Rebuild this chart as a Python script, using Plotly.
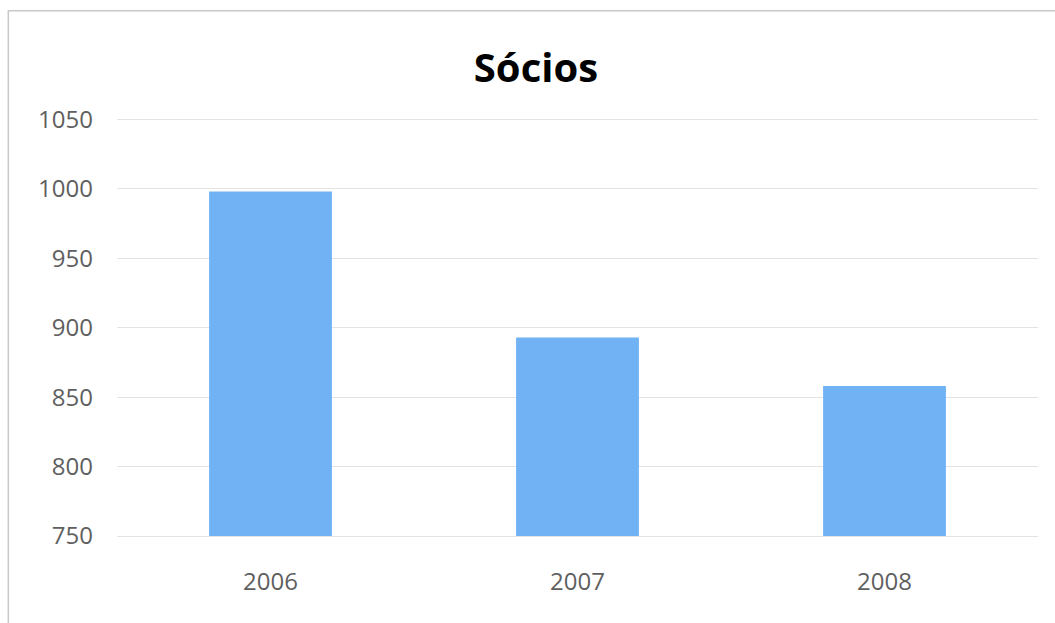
import plotly.graph_objects as go

categories = ["2006", "2007", "2008"]
socios = [998, 893, 858]
y_ticks = [750, 800, 850, 900, 950, 1000, 1050]

fig = go.Figure()
fig.add_trace(go.Bar(
    x=categories, y=socios, base=0,
    marker=dict(color="#70B2F4", line=dict(width=0)),
    width=0.4,
))

fig.update_layout(
    width=1055, height=623,
    margin=dict(l=117, r=17, t=118, b=87),
    paper_bgcolor="white", plot_bgcolor="white",
    showlegend=False,
    title=dict(text="<b>Sócios</b>", x=0.508, xanchor="center", y=0.891, yanchor="middle",
               font=dict(family="Open Sans, Liberation Sans, sans-serif", size=40, color="#000000")),
    font=dict(family="Open Sans, Liberation Sans, sans-serif", size=24, color="#5f5f5f"),
)
fig.update_yaxes(
    range=[750, 1051], tickvals=y_ticks, showgrid=True, gridcolor="#e3e3e3", gridwidth=1,
    zeroline=False, showline=False, ticks="", ticklabelstandoff=23,
    tickfont=dict(size=24, color="#5f5f5f"),
)
fig.update_xaxes(
    showgrid=False, showline=True, linecolor="#e3e3e3", ticks="", ticklabelstandoff=24,
    tickfont=dict(size=24, color="#5f5f5f"),
)
fig.add_shape(type="rect", xref="paper", yref="paper",
              x0=-0.118, x1=1.03, y0=-0.3, y1=1.2566,
              line=dict(color="#c8c8c8", width=1.5), layer="below")

fig.write_html("out.html", config={"displayModeBar": False},
               post_script="document.body.style.margin='0';")
